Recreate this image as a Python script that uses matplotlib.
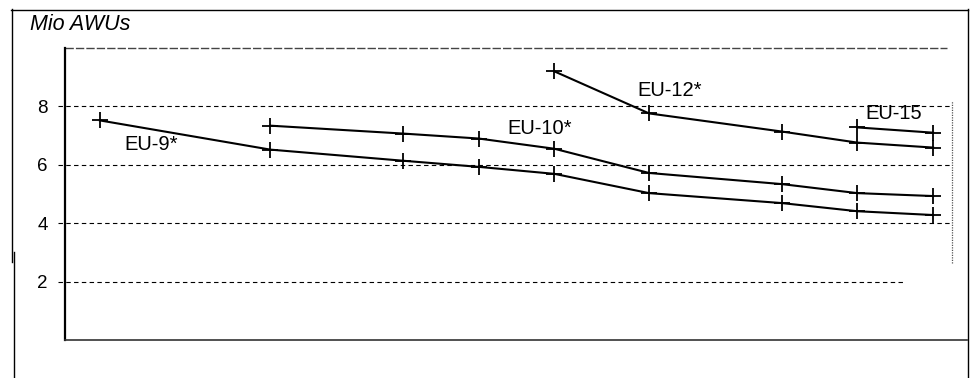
import matplotlib
matplotlib.use('Agg')
import matplotlib.pyplot as plt
from matplotlib.lines import Line2D

# Survey years (x) and AWU values in millions
years = [1975, 1979.5, 1983, 1985, 1987, 1989.5, 1993, 1995, 1997]
eu9 = [7.52, 6.52, 6.14, 5.93, 5.69, 5.03, 4.69, 4.41, 4.28]
eu10_years = years[1:]
eu10 = [7.34, 7.07, 6.90, 6.55, 5.72, 5.34, 5.03, 4.93]
eu12_years = years[4:]
eu12 = [9.2, 7.76, 7.14, 6.76, 6.59]
eu15_years = years[7:]
eu15 = [7.28, 7.10]

series_labels = ['EU-9*', 'EU-10*', 'EU-12*', 'EU-15']
label_pos = [(1976.35, 6.68), (1986.6, 7.26), (1990.05, 8.56), (1995.95, 7.77)]
y_ticks = [2, 4, 6, 8]

plt.rcParams['font.family'] = ['Liberation Sans', 'DejaVu Sans']

W, H = 973, 378
fig = plt.figure(figsize=(W / 100, H / 100), dpi=100)
fig.patch.set_facecolor('white')

# axes box in pixels: left 65, right 967, top 48, bottom 340
ax = fig.add_axes([65 / W, (H - 340) / H, (967 - 65) / W, (340 - 48) / H])
ax.set_xlim(1975 - 35 / 38, 1997 + 34 / 38)
ax.set_ylim(0, 10)

for s in ['top', 'right']:
    ax.spines[s].set_visible(False)
ax.spines['left'].set_linewidth(1.6)
ax.spines['bottom'].set_linewidth(1.2)
ax.spines['left'].set_color('black')
ax.spines['bottom'].set_color('#333333')

ax.set_xticks([])
ax.set_yticks(y_ticks)
ax.set_yticklabels([str(t) for t in y_ticks])
ax.tick_params(axis='y', length=0, pad=12.5, labelsize=13.5)

# dashed gridlines (drawn a bit left of the spine like ticks)
ytr = ax.get_yaxis_transform()
grid_end = {8: 0.983, 6: 0.983, 4: 0.983, 2: 0.931}
for yv in y_ticks:
    ax.plot([-0.008, grid_end[yv]], [yv, yv], transform=ytr, color='black',
            lw=0.8, dashes=(4, 3), clip_on=False, zorder=1)
# faint top line at 10
ax.plot([0.0, 0.978], [10, 10], transform=ytr, color='#444444',
        lw=1.0, dashes=(6, 1.5), clip_on=False, zorder=1)
# dotted right-hand marker line
ax.axvline(1997.5, ymin=0.264, ymax=0.82, color='#555555', lw=0.9,
           ls=(0, (1, 1)), zorder=1)

style = dict(color='black', lw=1.5, marker='+', markersize=11, mew=1.3, zorder=3)
ax.plot(years, eu9, **style)
ax.plot(eu10_years, eu10, **style)
ax.plot(eu12_years, eu12, **style)
ax.plot(eu15_years, eu15, **style)

for lab, (lx, ly) in zip(series_labels, label_pos):
    ax.text(lx, ly, lab, ha='center', va='center', fontsize=14.5, color='black')

# outer frame of the scanned figure
frame_kw = dict(color='black', lw=1.0, transform=fig.transFigure)
fig.add_artist(Line2D([11 / W, 968 / W], [1 - 9.5 / H, 1 - 9.5 / H], **frame_kw))
fig.add_artist(Line2D([11.5 / W, 11.5 / W], [1 - 9 / H, 1 - 262 / H], **frame_kw))
fig.add_artist(Line2D([13.5 / W, 13.5 / W], [1 - 252 / H, 0], **frame_kw))
fig.add_artist(Line2D([968 / W, 968 / W], [1 - 9 / H, 0], **frame_kw))

fig.text(30 / W, 1 - 24 / H, 'Mio AWUs', fontsize=15.5, style='italic',
         ha='left', va='center')

fig.savefig('out.png', dpi=100, facecolor='white')
